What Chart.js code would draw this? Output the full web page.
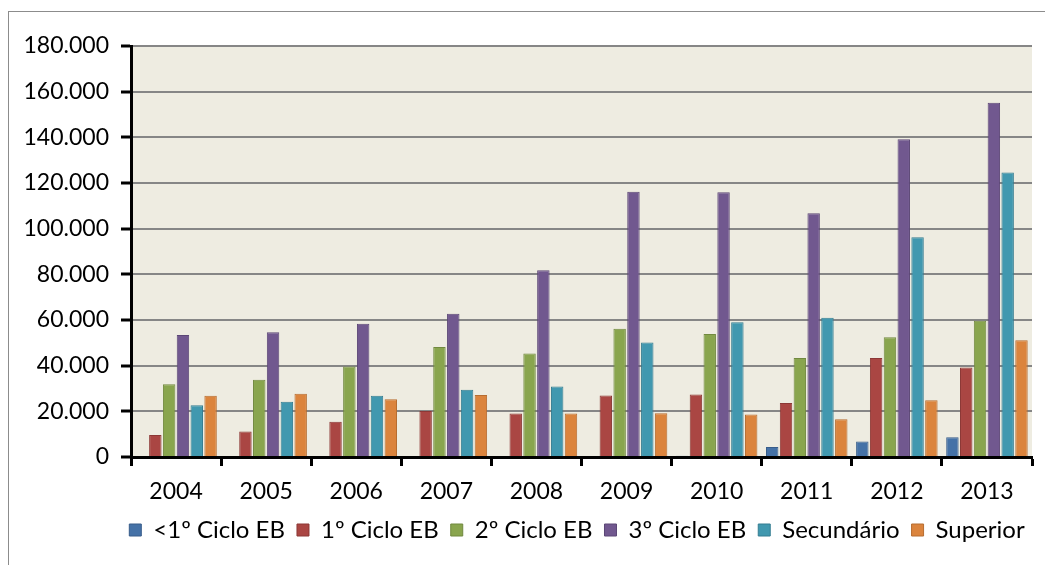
<!DOCTYPE html>
<html>
<head>
<meta charset="utf-8">
<script src="https://cdn.jsdelivr.net/npm/chart.js@4.4.0/dist/chart.umd.min.js"></script>
<style>
  html, body { margin: 0; padding: 0; background: #fff; }
  #wrap { width: 1045px; height: 565px; position: relative; }
</style>
</head>
<body>
<div id="wrap"><canvas id="myChart" width="1045" height="565"></canvas></div>
<script>
// data
const years = ['2004', '2005', '2006', '2007', '2008', '2009', '2010', '2011', '2012', '2013'];
const seriesNames = ['<1º Ciclo EB', '1º Ciclo EB', '2º Ciclo EB', '3º Ciclo EB', 'Secundário', 'Superior'];
const menos1Ciclo = [0, 0, 0, 0, 0, 0, 500, 4400, 6800, 8600];
const ciclo1 = [9600, 11200, 15400, 20100, 19100, 26900, 27400, 23700, 43400, 39200];
const ciclo2 = [31900, 33800, 39600, 48200, 45300, 56200, 53900, 43400, 52500, 59700];
const ciclo3 = [53400, 54600, 58400, 62700, 81800, 116200, 115900, 106800, 139200, 155200];
const secundario = [22700, 24200, 26800, 29400, 30900, 50200, 59000, 61000, 96200, 124600];
const superior = [26800, 27700, 25300, 27100, 19100, 19200, 18600, 16500, 24900, 51100];

const fills = ['#4572A7', '#AA4643', '#89A54E', '#71588F', '#4198AF', '#DB843D'];
const edges = ['#385D8A', '#8C3836', '#71893F', '#5C4776', '#357D91', '#B66D31'];
const values = [menos1Ciclo, ciclo1, ciclo2, ciclo3, secundario, superior];

const ctx = document.getElementById('myChart').getContext('2d');
const FONT = { family: 'Lato', size: 23 };

function fmt(v) {
    return String(v).replace(/\B(?=(\d{3})+(?!\d))/g, '.');
}

const frame = {
    id: 'frame',
    afterLayout(chart) {
        // legend sits a bit right of the canvas centre in the original
        chart.legend.left += 61;
        chart.legend.right += 61;
    },
    beforeDraw(chart) {
        const c = chart.ctx, a = chart.chartArea;
        c.save();
        c.fillStyle = '#EEECE1';
        c.fillRect(a.left, a.top, a.right - a.left, a.bottom - a.top);
        c.strokeStyle = '#8C8C8C';
        c.lineWidth = 1;
        c.strokeRect(8.5, 11.5, 1100, 600);
        c.restore();
    }
};

const myChart = new Chart(ctx, {
    type: 'bar',
    data: {
        labels: years,
        datasets: seriesNames.map((name, i) => ({
            label: name,
            data: values[i],
            backgroundColor: fills[i],
            borderColor: edges[i],
            borderWidth: 1,
            categoryPercentage: 0.92,
            barPercentage: 0.9
        }))
    },
    options: {
        responsive: false,
        animation: false,
        layout: { padding: { top: 46, right: 13, bottom: 13, left: 0 } },
        plugins: {
            legend: {
                position: 'bottom',
                labels: {
                    font: { family: 'Lato', size: 24 },
                    color: '#000',
                    boxWidth: 12,
                    boxHeight: 12,
                    padding: 12
                }
            },
            tooltip: { enabled: false }
        },
        scales: {
            x: {
                offset: true,
                grid: {
                    offset: true,
                    drawOnChartArea: false,
                    drawTicks: true,
                    tickLength: 9,
                    tickColor: '#000',
                    tickWidth: 3
                },
                border: { color: '#000', width: 3, z: 2 },
                ticks: { font: FONT, color: '#000', padding: 12 },
                afterFit(scale) { scale.height = 49; }
            },
            y: {
                min: 0,
                max: 180000,
                grid: {
                    color: c => c.tick && c.tick.value === 0 ? 'rgba(0,0,0,0)' : '#868686',
                    lineWidth: 2,
                    tickLength: 10,
                    tickColor: '#000',
                    tickWidth: 3
                },
                border: { color: '#000', width: 3, z: 2 },
                ticks: {
                    stepSize: 20000,
                    font: FONT,
                    color: '#000',
                    padding: 12,
                    callback: v => fmt(v)
                },
                afterFit(scale) { scale.width = 131; }
            }
        }
    },
    plugins: [frame]
});
</script>
</body>
</html>
